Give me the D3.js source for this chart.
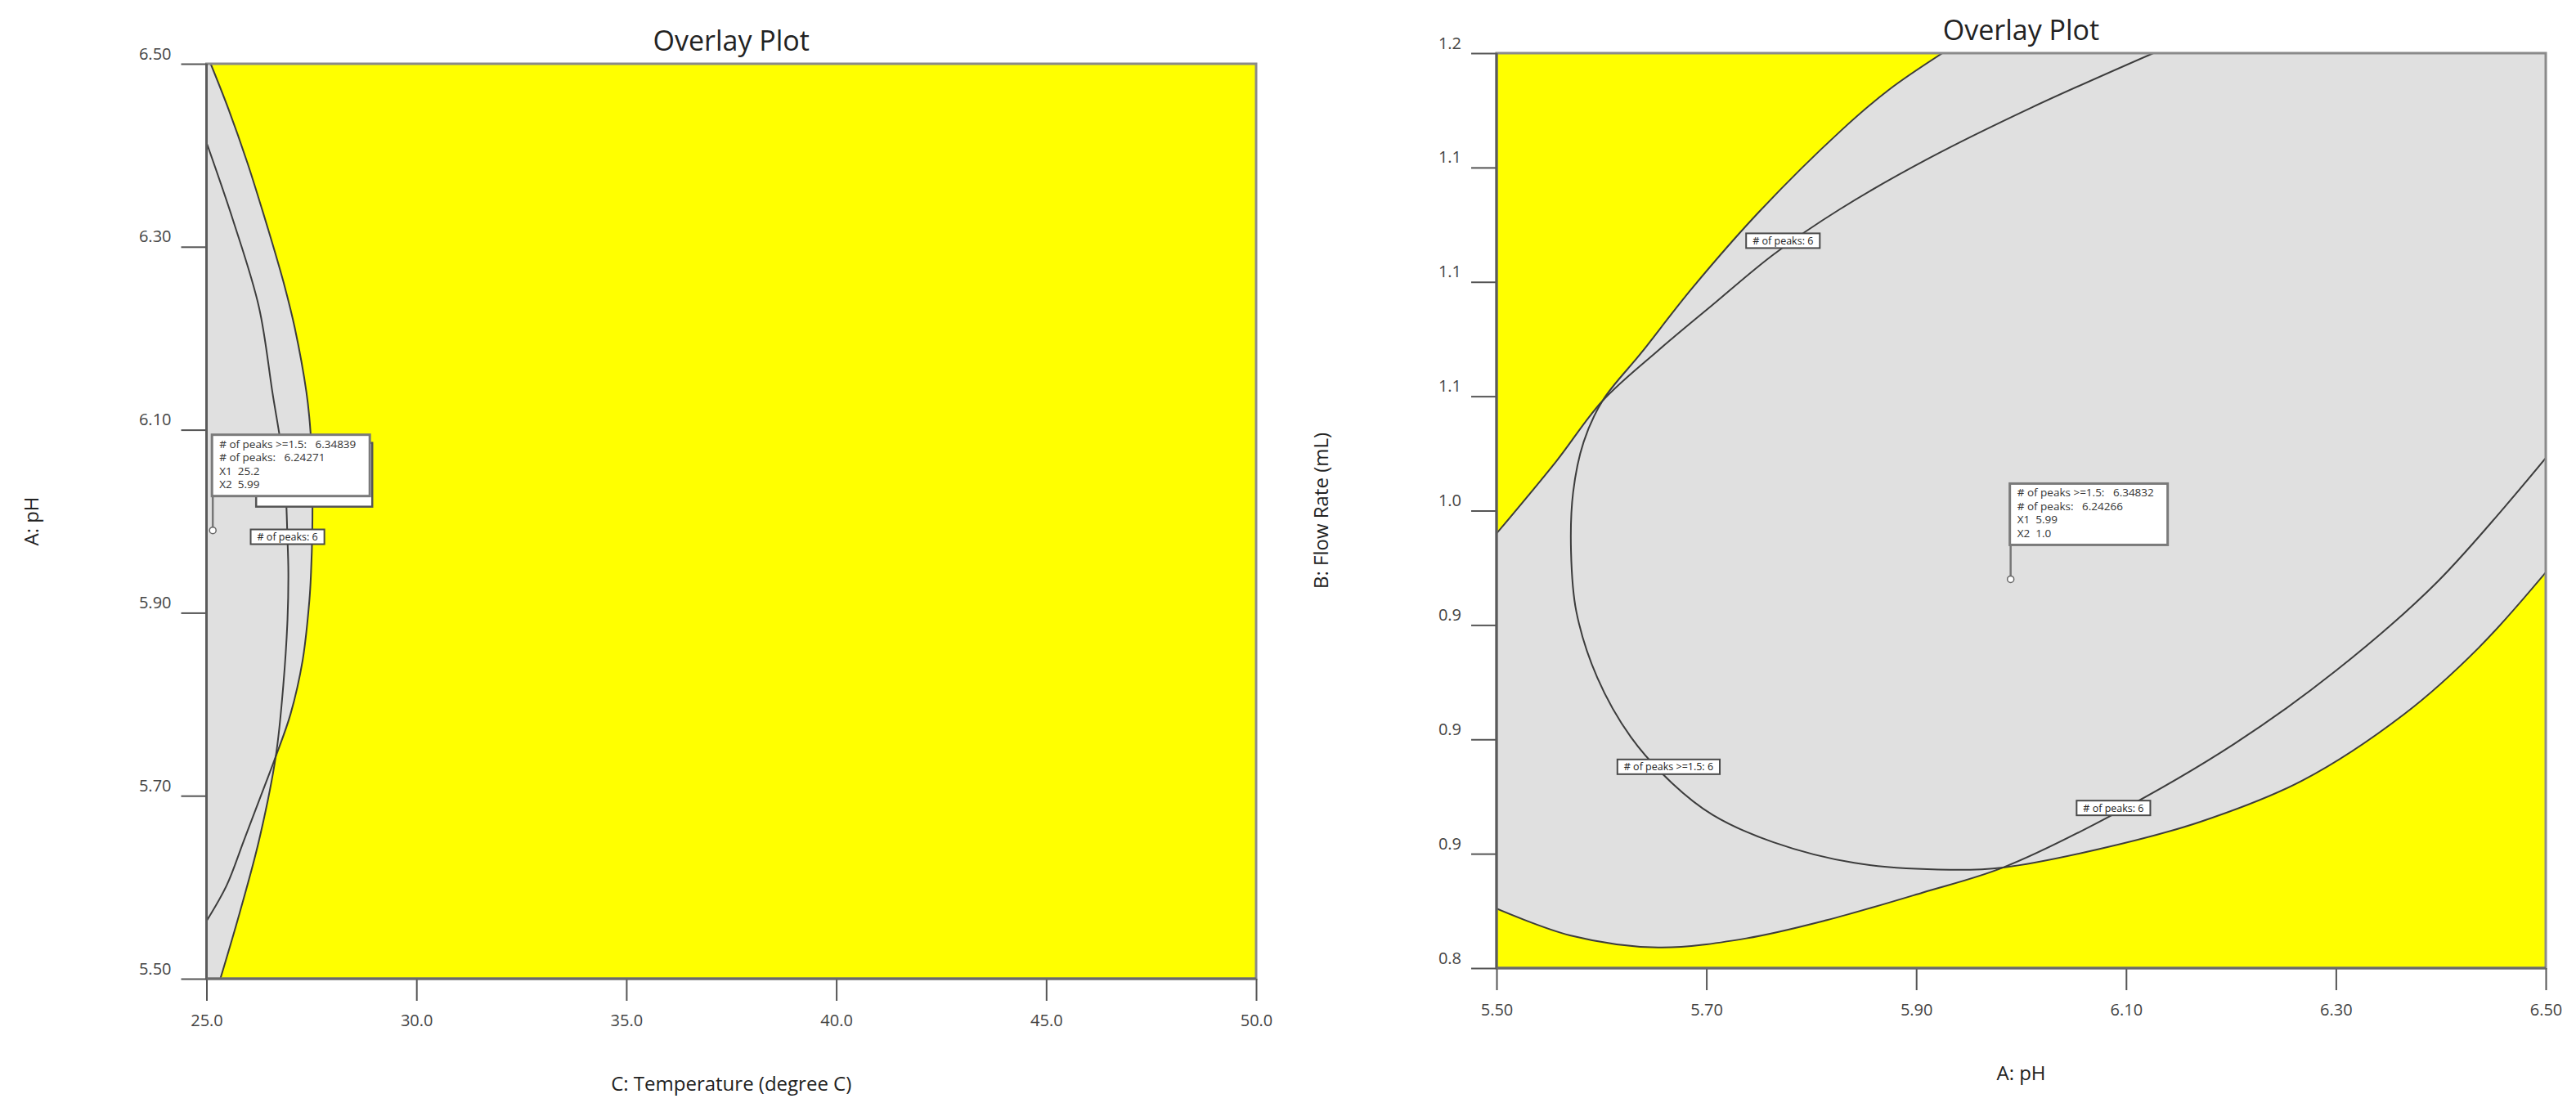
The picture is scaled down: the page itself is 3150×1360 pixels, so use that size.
<!DOCTYPE html>
<html>
<head>
<meta charset="utf-8">
<script src="https://cdn.jsdelivr.net/npm/d3@7"></script>
<style>
  body { margin: 0; background: #fff; }
  text { font-family: 'Open Sans', 'DejaVu Sans', sans-serif; }
</style>
</head>
<body>
<svg id="chart" width="3150" height="1360"></svg>
<script>
// ---- left panel: C Temperature vs A pH ----
const leftXTicks = [25, 30, 35, 40, 45, 50];
const leftXTickLabels = ['25.0', '30.0', '35.0', '40.0', '45.0', '50.0'];
const leftYTicks = [5.5, 5.7, 5.9, 6.1, 6.3, 6.5];
const leftYTickLabels = ['5.50', '5.70', '5.90', '6.10', '6.30', '6.50'];

// contour "# of peaks >= 1.5 = 6" (outer one near the top)
const leftCurveA = [
  [25.10, 6.500], [25.52, 6.451], [25.98, 6.391], [26.35, 6.337], [26.58, 6.302],
  [26.86, 6.257], [27.10, 6.212], [27.38, 6.141], [27.48, 6.096], [27.52, 6.042],
  [27.52, 5.989], [27.49, 5.944], [27.45, 5.913], [27.29, 5.848], [27.00, 5.789],
  [26.65, 5.743], [26.28, 5.698], [25.89, 5.651], [25.48, 5.602], [25.00, 5.563]
];
// contour "# of peaks = 6"
const leftCurveB = [
  [25.00, 6.414], [25.64, 6.328], [26.25, 6.234], [26.57, 6.141], [26.85, 6.057],
  [26.93, 5.979], [26.95, 5.944], [26.93, 5.893], [26.83, 5.821], [26.65, 5.743],
  [26.25, 5.651], [25.79, 5.572], [25.33, 5.500]
];
const leftLabels = [{ text: '# of peaks: 6', at: [26.93, 5.983] }];
const leftCalloutPoint = [25.15, 5.99];
const leftCalloutText = ['# of peaks >=1.5:   6.34839', '# of peaks:   6.24271', 'X1  25.2', 'X2  5.99'];

// ---- right panel: A pH vs B Flow Rate ----
const rightXTicks = [5.5, 5.7, 5.9, 6.1, 6.3, 6.5];
const rightXTickLabels = ['5.50', '5.70', '5.90', '6.10', '6.30', '6.50'];
const rightYTicks = [0.8, 0.85, 0.9, 0.95, 1.0, 1.05, 1.1, 1.15, 1.2];
const rightYTickLabels = ['0.8', '0.9', '0.9', '0.9', '1.0', '1.1', '1.1', '1.1', '1.2'];

// contour "# of peaks >= 1.5 = 6"
const rightCurveP = [
  [5.925, 1.200], [5.874, 1.184], [5.828, 1.166], [5.751, 1.131], [5.686, 1.097],
  [5.638, 1.069], [5.601, 1.048], [5.583, 1.030], [5.573, 1.008], [5.571, 0.982],
  [5.576, 0.956], [5.596, 0.927], [5.628, 0.901], [5.667, 0.881], [5.706, 0.867],
  [5.764, 0.855], [5.841, 0.846], [5.932, 0.843], [5.983, 0.844], [6.074, 0.852],
  [6.171, 0.864], [6.268, 0.882], [6.365, 0.911], [6.436, 0.940], [6.500, 0.973]
];
// contour "# of peaks = 6", upper and lower branch
const rightCurveQUpper = [
  [5.500, 0.990], [5.557, 1.0216], [5.601, 1.048], [5.654, 1.070], [5.706, 1.090],
  [5.764, 1.112], [5.828, 1.132], [5.912, 1.154], [6.009, 1.176], [6.126, 1.200]
];
const rightCurveQLower = [
  [5.500, 0.826], [5.570, 0.8143], [5.654, 0.809], [5.738, 0.813], [5.815, 0.821],
  [5.906, 0.833], [5.983, 0.844], [6.087, 0.867], [6.203, 0.898], [6.300, 0.930],
  [6.397, 0.969], [6.500, 1.023]
];
const rightLabels = [
  { text: '# of peaks: 6', at: [5.773, 1.118] },
  { text: '# of peaks >=1.5: 6', at: [5.664, 0.888] },
  { text: '# of peaks: 6', at: [6.088, 0.870] }
];
const rightCalloutPoint = [5.99, 0.97];
const rightCalloutText = ['# of peaks >=1.5:   6.34832', '# of peaks:   6.24266', 'X1  5.99', 'X2  1.0'];

const YELLOW = '#ffff00';
const GREY = '#e0e0e0';

class OverlayPlot {
  constructor(svg, config) {
    this.svg = svg;
    this.config = config;
    this.initVis();
  }

  initVis() {
    let vis = this;
    let c = vis.config;

    vis.x = d3.scaleLinear().domain(c.xDomain).range([c.left, c.right]);
    vis.y = d3.scaleLinear().domain(c.yDomain).range([c.bottom, c.top]);

    vis.line = d3.line()
      .x(d => vis.x(d[0]))
      .y(d => vis.y(d[1]))
      .curve(d3.curveCatmullRom.alpha(0.5));

    vis.g = vis.svg.append('g');

    vis.g.append('clipPath')
        .attr('id', c.id + '-clip')
      .append('rect')
        .attr('x', c.left).attr('y', c.top)
        .attr('width', c.right - c.left).attr('height', c.bottom - c.top);

    vis.plot = vis.g.append('g').attr('clip-path', `url(#${c.id}-clip)`);
    vis.render();
  }

  // a curve closed through some corner points (and optionally a second curve walked backwards)
  regionPath(r) {
    let vis = this;
    let p = vis.line(r.curve);
    r.close.forEach(pt => { p += 'L' + vis.x(pt[0]) + ',' + vis.y(pt[1]); });
    if (r.back) p += vis.line(r.back.slice().reverse()).replace(/^M/, 'L');
    return p + 'Z';
  }

  render() {
    let vis = this;
    let c = vis.config;
    let x0 = c.left, x1 = c.right, y0 = c.top, y1 = c.bottom;

    // background: the sweet spot is yellow, failing areas grey
    vis.plot.append('rect')
      .attr('x', x0).attr('y', y0)
      .attr('width', x1 - x0).attr('height', y1 - y0)
      .attr('fill', YELLOW);

    vis.plot.selectAll('.region')
      .data(c.regions)
      .join('path')
        .attr('class', 'region')
        .attr('d', d => vis.regionPath(d))
        .attr('fill', GREY)
        .attr('stroke', 'none');

    vis.plot.selectAll('.contour')
      .data(c.lines)
      .join('path')
        .attr('class', 'contour')
        .attr('d', vis.line)
        .attr('fill', 'none')
        .attr('stroke', '#3c3c3c')
        .attr('stroke-width', 2);

    // contour labels sit on the line and hide it
    let labs = vis.g.selectAll('.clabel')
      .data(c.labels)
      .join('g')
        .attr('class', 'clabel')
        .attr('transform', d => `translate(${vis.x(d.at[0])},${vis.y(d.at[1])})`);
    labs.append('rect').attr('fill', '#fff').attr('stroke', '#4a4a4a').attr('stroke-width', 2);
    labs.append('text')
      .attr('text-anchor', 'middle')
      .attr('y', 4.5)
      .attr('font-size', 12.5)
      .attr('fill', '#222')
      .text(d => d.text);
    labs.each(function() {
      let w = d3.select(this).select('text').node().getComputedTextLength() + 16;
      d3.select(this).select('rect')
        .attr('x', -w / 2).attr('y', -9).attr('width', w).attr('height', 18);
    });

    // flag callout with pin
    let co = c.callout;
    let px = vis.x(co.point[0]), py = vis.y(co.point[1]);
    let bw = 193, bh = 75;
    let bx = px - 1, by = py - 42 - bh;
    let cg = vis.g.append('g');
    if (co.shadow) {
      cg.append('rect')
        .attr('x', bx + 54).attr('y', by + 10).attr('width', bw - 51).attr('height', bh + 3)
        .attr('fill', '#fff').attr('stroke', '#555').attr('stroke-width', 2.5);
    }
    cg.append('line')
      .attr('x1', px).attr('x2', px).attr('y1', by + bh).attr('y2', py - 4)
      .attr('stroke', '#777').attr('stroke-width', 2.5);
    cg.append('circle')
      .attr('cx', px).attr('cy', py).attr('r', 4)
      .attr('fill', '#fff').attr('stroke', '#666').attr('stroke-width', 1.5);
    cg.append('rect')
      .attr('x', bx).attr('y', by).attr('width', bw).attr('height', bh)
      .attr('fill', '#fff').attr('stroke', '#7a7a7a').attr('stroke-width', 3);
    cg.selectAll('text')
      .data(co.text)
      .join('text')
        .attr('x', bx + 9)
        .attr('y', (d, i) => by + 16 + i * 16.5)
        .attr('font-size', 13.5)
        .attr('fill', '#333')
        .style('white-space', 'pre')
        .text(d => d);

    // frame
    vis.g.append('rect')
      .attr('x', x0).attr('y', y0)
      .attr('width', x1 - x0).attr('height', y1 - y0)
      .attr('fill', 'none').attr('stroke', '#8a8a8a').attr('stroke-width', 3);

    // axes
    let xAxis = d3.axisBottom(vis.x)
      .tickValues(c.xTicks)
      .tickFormat((d, i) => c.xTickLabels[i])
      .tickSize(27);
    let yAxis = d3.axisLeft(vis.y)
      .tickValues(c.yTicks)
      .tickFormat((d, i) => c.yTickLabels[i])
      .tickSize(31)
      .tickPadding(12);

    let gx = vis.g.append('g').attr('transform', `translate(0,${y1})`).call(xAxis);
    let gy = vis.g.append('g').attr('transform', `translate(${x0},0)`).call(yAxis);
    [gx, gy].forEach(a => {
      a.select('.domain').remove();
      a.selectAll('.tick line').attr('stroke', '#555').attr('stroke-width', 2);
      a.selectAll('.tick text')
        .attr('font-family', null)
        .attr('font-size', 20)
        .attr('fill', '#444');
    });
    gx.selectAll('.tick text').attr('dy', null).attr('y', 58);
    gy.selectAll('.tick text').attr('dy', null).attr('y', -6);

    vis.g.append('line')
      .attr('x1', x0).attr('x2', x0).attr('y1', y0).attr('y2', y1)
      .attr('stroke', '#5a5a5a').attr('stroke-width', 3);
    vis.g.append('line')
      .attr('x1', x0).attr('x2', x1).attr('y1', y1).attr('y2', y1)
      .attr('stroke', '#6a6a6a').attr('stroke-width', 3);

    // titles
    let cx = (x0 + x1) / 2, cy = (y0 + y1) / 2;
    vis.g.append('text')
      .attr('x', cx).attr('y', y0 - 16)
      .attr('text-anchor', 'middle')
      .attr('font-size', 34).attr('fill', '#222')
      .text('Overlay Plot');
    vis.g.append('text')
      .attr('x', cx).attr('y', y1 + 137)
      .attr('text-anchor', 'middle')
      .attr('font-size', 24).attr('fill', '#222')
      .text(c.xTitle);
    vis.g.append('text')
      .attr('transform', `translate(${x0 - 206},${cy}) rotate(-90)`)
      .attr('text-anchor', 'middle')
      .attr('font-size', 24).attr('fill', '#222')
      .text(c.yTitle);
  }
}

let svg = d3.select('#chart');

new OverlayPlot(svg, {
  id: 'left',
  left: 252.5, right: 1536, top: 78, bottom: 1197,
  xDomain: [25, 50], yDomain: [5.5, 6.5],
  xTicks: leftXTicks, xTickLabels: leftXTickLabels,
  yTicks: leftYTicks, yTickLabels: leftYTickLabels,
  xTitle: 'C: Temperature (degree C)', yTitle: 'A: pH',
  regions: [
    { curve: leftCurveA, close: [[25, 6.5]] },
    { curve: leftCurveB, close: [[25, 5.5]] }
  ],
  lines: [leftCurveA, leftCurveB],
  labels: leftLabels,
  callout: { point: leftCalloutPoint, text: leftCalloutText, shadow: true }
});

new OverlayPlot(svg, {
  id: 'right',
  left: 1830, right: 3113, top: 65, bottom: 1184,
  xDomain: [5.5, 6.5], yDomain: [0.8, 1.2],
  xTicks: rightXTicks, xTickLabels: rightXTickLabels,
  yTicks: rightYTicks, yTickLabels: rightYTickLabels,
  xTitle: 'A: pH', yTitle: 'B: Flow Rate (mL)',
  regions: [
    { curve: rightCurveP, close: [[6.5, 1.2]] },
    { curve: rightCurveQUpper, close: [[6.5, 1.2]], back: rightCurveQLower }
  ],
  lines: [rightCurveP, rightCurveQUpper, rightCurveQLower],
  labels: rightLabels,
  callout: { point: rightCalloutPoint, text: rightCalloutText, shadow: false }
});
</script>
</body>
</html>
